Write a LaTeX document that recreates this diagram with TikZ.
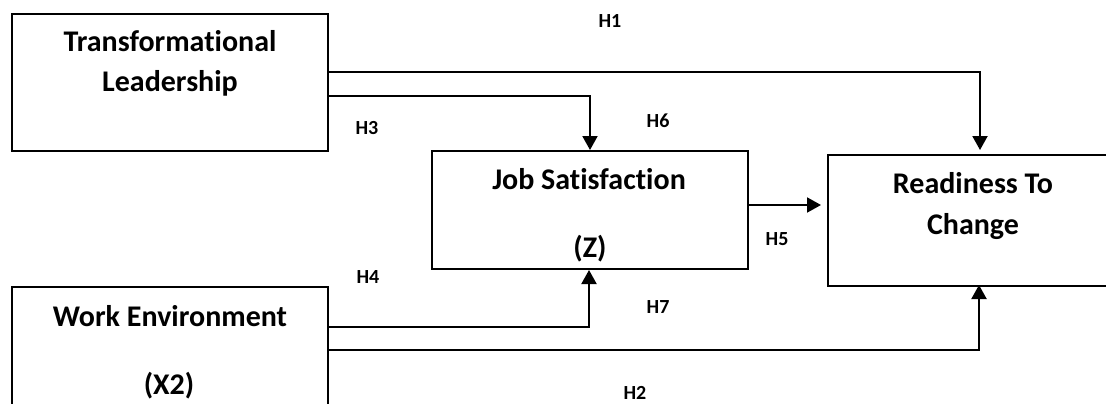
\documentclass[tikz,border=0pt]{standalone}
\usepackage{fontspec}
\setmainfont{Carlito}[RawFeature=-liga]
\usetikzlibrary{arrows.meta}
\tikzset{
  box/.style={draw, line width=2pt, rectangle, inner sep=0pt},
  big/.style={font=\fontsize{30}{36}\selectfont\bfseries, anchor=base, inner sep=0pt},
  hyp/.style={font=\fontsize{20}{24}\selectfont\bfseries, inner sep=0pt},
  arr/.style={line width=2pt, -{Triangle[width=15pt,length=14pt]}},
}
\begin{document}
\begin{tikzpicture}[x=1pt,y=-1pt]
\useasboundingbox (0,0) rectangle (1106,404);
% boxes
\node[box, minimum width=316pt, minimum height=137pt] (TL) at (170,82.5) {};
\node[box, minimum width=316pt, minimum height=118pt] (JS) at (590,210) {};
\node[box, minimum width=290pt, minimum height=131pt] (RTC) at (973,220.5) {};
\node[box, minimum width=316pt, minimum height=160pt] (WE) at (170,367) {};
% box texts
\node[big] (t1) at (170,52) {Transformational};
\node[big] (t2) at (170,92) {Leadership};
\node[big] (j1) at (589,189) {Job Satisfaction};
\node[big] (j2) at (590,257) {(Z)};
\node[big] (r1) at (973,193) {Readiness To};
\node[big] (r2) at (973,234) {Change};
\node[big] (w1) at (170,326) {Work Environment};
\node[big] (w2) at (169,394) {(X2)};
% connector coordinates
\coordinate (a1) at (TL.east |- 0,72);
\coordinate (a2) at (TL.east |- 0,96);
\coordinate (b1) at (WE.east |- 0,327);
\coordinate (b2) at (WE.east |- 0,350);
\coordinate (rtop) at (RTC.north -| 980,0);
\coordinate (rbot) at (RTC.south -| 979,0);
\coordinate (jtop) at (JS.north -| 590,0);
\coordinate (jbot) at (JS.south -| 589,0);
\coordinate (jr) at (JS.east |- 0,205);
\coordinate (rl) at (RTC.west |- 0,205);
% connectors
\draw[arr, shorten >=4pt] (a1) -| (rtop);
\draw[arr] (a2) -| (jtop);
\draw[arr] (b1) -| (jbot);
\draw[arr, shorten >=-2pt] (b2) -| (rbot);
\draw[arr, shorten >=6pt] (jr) -- (rl);
% hypothesis labels
\node[hyp] (h1) at (610,21) {H1};
\node[hyp] (h3) at (367,128) {H3};
\node[hyp] (h6) at (658,121) {H6};
\node[hyp] (h5) at (777,239) {H5};
\node[hyp] (h4) at (368,277) {H4};
\node[hyp] (h7) at (658,307) {H7};
\node[hyp] (h2) at (635,393) {H2};
\end{tikzpicture}
\end{document}
